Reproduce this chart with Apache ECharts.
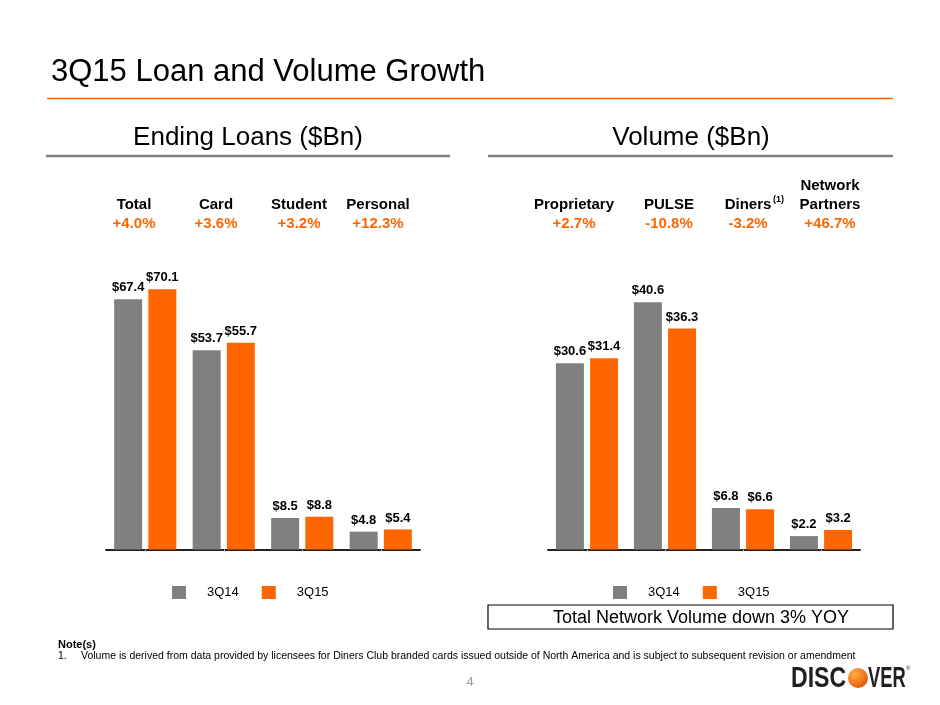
<!DOCTYPE html>
<html>
<head>
<meta charset="utf-8">
<script src="https://cdn.jsdelivr.net/npm/echarts@6/dist/echarts.min.js"></script>
<style>
html,body{margin:0;padding:0;background:#fff;}
#chart{width:940px;height:705px;}
</style>
</head>
<body>
<div id="chart"></div>
<script>
// ---- data ----
const seriesNames = ['3Q14', '3Q15'];
const loanCategories = ['Total', 'Card', 'Student', 'Personal'];
const loanGrowth = ['+4.0%', '+3.6%', '+3.2%', '+12.3%'];
const loans3Q14 = [67.4, 53.7, 8.5, 4.8];
const loans3Q15 = [70.1, 55.7, 8.8, 5.4];
const volumeCategories = ['Proprietary', 'PULSE', 'Diners', 'Network\nPartners'];
const volumeGrowth = ['+2.7%', '-10.8%', '-3.2%', '+46.7%'];
const volume3Q14 = [30.6, 40.6, 6.8, 2.2];
const volume3Q15 = [31.4, 36.3, 6.6, 3.2];

// ---- layout (positions only) ----
const loanHeaderX = [134, 216, 299, 378];
const volumeHeaderX = [574, 669, 748, 830];

const FONT = "'Liberation Sans', Arial, sans-serif";
const GRAY = '#808080';
const ORANGE = '#FF6600';

const chart = echarts.init(document.getElementById('chart'), null, {renderer: 'canvas'});

function barSeries(name, data, color, idx) {
  return {
    name: name,
    type: 'bar',
    xAxisIndex: idx,
    yAxisIndex: idx,
    data: data,
    barWidth: 28,
    barGap: '22%',
    itemStyle: {color: color},
    label: {
      show: true,
      position: 'top',
      distance: 5,
      formatter: p => '$' + p.value.toFixed(1),
      fontFamily: FONT,
      fontWeight: 'bold',
      fontSize: 13,
      color: '#000'
    },
    emphasis: {disabled: true},
    animation: false
  };
}

function txt(text, x, y, size, opts) {
  opts = opts || {};
  const el = {
    type: 'text',
    silent: true,
    x: x,
    y: y,
    style: {
      text: text,
      x: 0,
      y: 0,
      font: (opts.bold ? 'bold ' : '') + size + 'px ' + (opts.family || FONT),
      fill: opts.color || '#000',
      textAlign: opts.align || 'center',
      align: opts.align || 'center',
      textVerticalAlign: opts.valign || 'middle',
      verticalAlign: opts.valign || 'middle',
      lineHeight: opts.lineHeight
    }
  };
  if (opts.scaleX) el.scaleX = opts.scaleX;
  return el;
}

const graphics = [];
// title
graphics.push(txt('3Q15 Loan and Volume Growth', 51, 72, 31, {align: 'left'}));
graphics.push({type: 'line', silent: true, shape: {x1: 47, y1: 98.5, x2: 893, y2: 98.5}, style: {stroke: ORANGE, lineWidth: 1.5}});
// section headers
graphics.push(txt('Ending Loans ($Bn)', 248, 138, 26));
graphics.push(txt('Volume ($Bn)', 691, 138, 26));
graphics.push({type: 'line', silent: true, shape: {x1: 46, y1: 156, x2: 450, y2: 156}, style: {stroke: GRAY, lineWidth: 2.5}});
graphics.push({type: 'line', silent: true, shape: {x1: 488, y1: 156, x2: 893, y2: 156}, style: {stroke: GRAY, lineWidth: 2.5}});
// category headers + growth
loanCategories.forEach((c, i) => {
  graphics.push(txt(c, loanHeaderX[i], 214.5, 15, {bold: true, valign: 'bottom', lineHeight: 19}));
  graphics.push(txt(loanGrowth[i], loanHeaderX[i], 223.5, 15, {bold: true, color: ORANGE}));
});
volumeCategories.forEach((c, i) => {
  graphics.push(txt(c, volumeHeaderX[i], 214.5, 15, {bold: true, valign: 'bottom', lineHeight: 19}));
  graphics.push(txt(volumeGrowth[i], volumeHeaderX[i], 223.5, 15, {bold: true, color: ORANGE}));
});
graphics.push(txt('(1)', 773, 199.5, 9, {bold: true, align: 'left'}));
// box
graphics.push({type: 'rect', silent: true, shape: {x: 488, y: 605, width: 405, height: 24}, style: {fill: '#fff', stroke: '#000', lineWidth: 1.2}});
graphics.push(txt('Total Network Volume down 3% YOY', 701, 618, 18));
// notes
graphics.push(txt('Note(s)', 58, 645, 11, {bold: true, align: 'left'}));
graphics.push(txt('1.', 58, 656.5, 10.5, {align: 'left'}));
graphics.push(txt('Volume is derived from data provided by licensees for Diners Club branded cards issued outside of North America and is subject to subsequent revision or amendment', 81, 656.5, 10.5, {align: 'left'}));
// page number
graphics.push(txt('4', 470, 682, 13, {color: '#999'}));
// logo
graphics.push(txt('DISC', 791, 678.5, 30, {bold: true, align: 'left', color: '#231f20', scaleX: 0.77}));
graphics.push({type: 'circle', silent: true, shape: {cx: 858, cy: 678, r: 10},
  style: {fill: {type: 'radial', x: 0.35, y: 0.3, r: 0.75, colorStops: [{offset: 0, color: '#ffb040'}, {offset: 0.6, color: '#f47b20'}, {offset: 1, color: '#d9530c'}]}}});
graphics.push(txt('VER', 868, 678.5, 30, {bold: true, align: 'left', color: '#231f20', scaleX: 0.61}));
graphics.push(txt('®', 906, 668, 6, {align: 'left', color: '#231f20'}));

function legend(left) {
  return {
    data: seriesNames,
    left: left,
    top: 586,
    padding: 0,
    icon: 'rect',
    itemWidth: 14,
    itemHeight: 13,
    itemGap: 23,
    selectedMode: false,
    textStyle: {fontFamily: FONT, fontSize: 13, color: '#000', padding: [0, 0, 0, 16]}
  };
}

function xAxis(idx, cats) {
  return {
    type: 'category',
    gridIndex: idx,
    data: cats,
    axisLine: {lineStyle: {color: '#222', width: 2}},
    axisTick: {show: true, alignWithLabel: true, length: 3, lineStyle: {color: '#ccc'}},
    axisLabel: {show: false},
    splitLine: {show: false}
  };
}

const option = {
  backgroundColor: '#fff',
  animation: false,
  legend: [legend(172), legend(613)],
  grid: [
    {left: 106, width: 314, top: 252.5, bottom: 155.5},
    {left: 548, width: 312, top: 245, bottom: 155.5}
  ],
  xAxis: [xAxis(0, loanCategories), xAxis(1, volumeCategories)],
  yAxis: [
    {type: 'value', gridIndex: 0, min: 0, max: 80, show: false, splitLine: {show: false}},
    {type: 'value', gridIndex: 1, min: 0, max: 50, show: false, splitLine: {show: false}}
  ],
  series: [
    barSeries(seriesNames[0], loans3Q14, GRAY, 0),
    barSeries(seriesNames[1], loans3Q15, ORANGE, 0),
    barSeries(seriesNames[0], volume3Q14, GRAY, 1),
    barSeries(seriesNames[1], volume3Q15, ORANGE, 1)
  ],
  graphic: graphics
};
chart.setOption(option);
</script>
</body>
</html>
